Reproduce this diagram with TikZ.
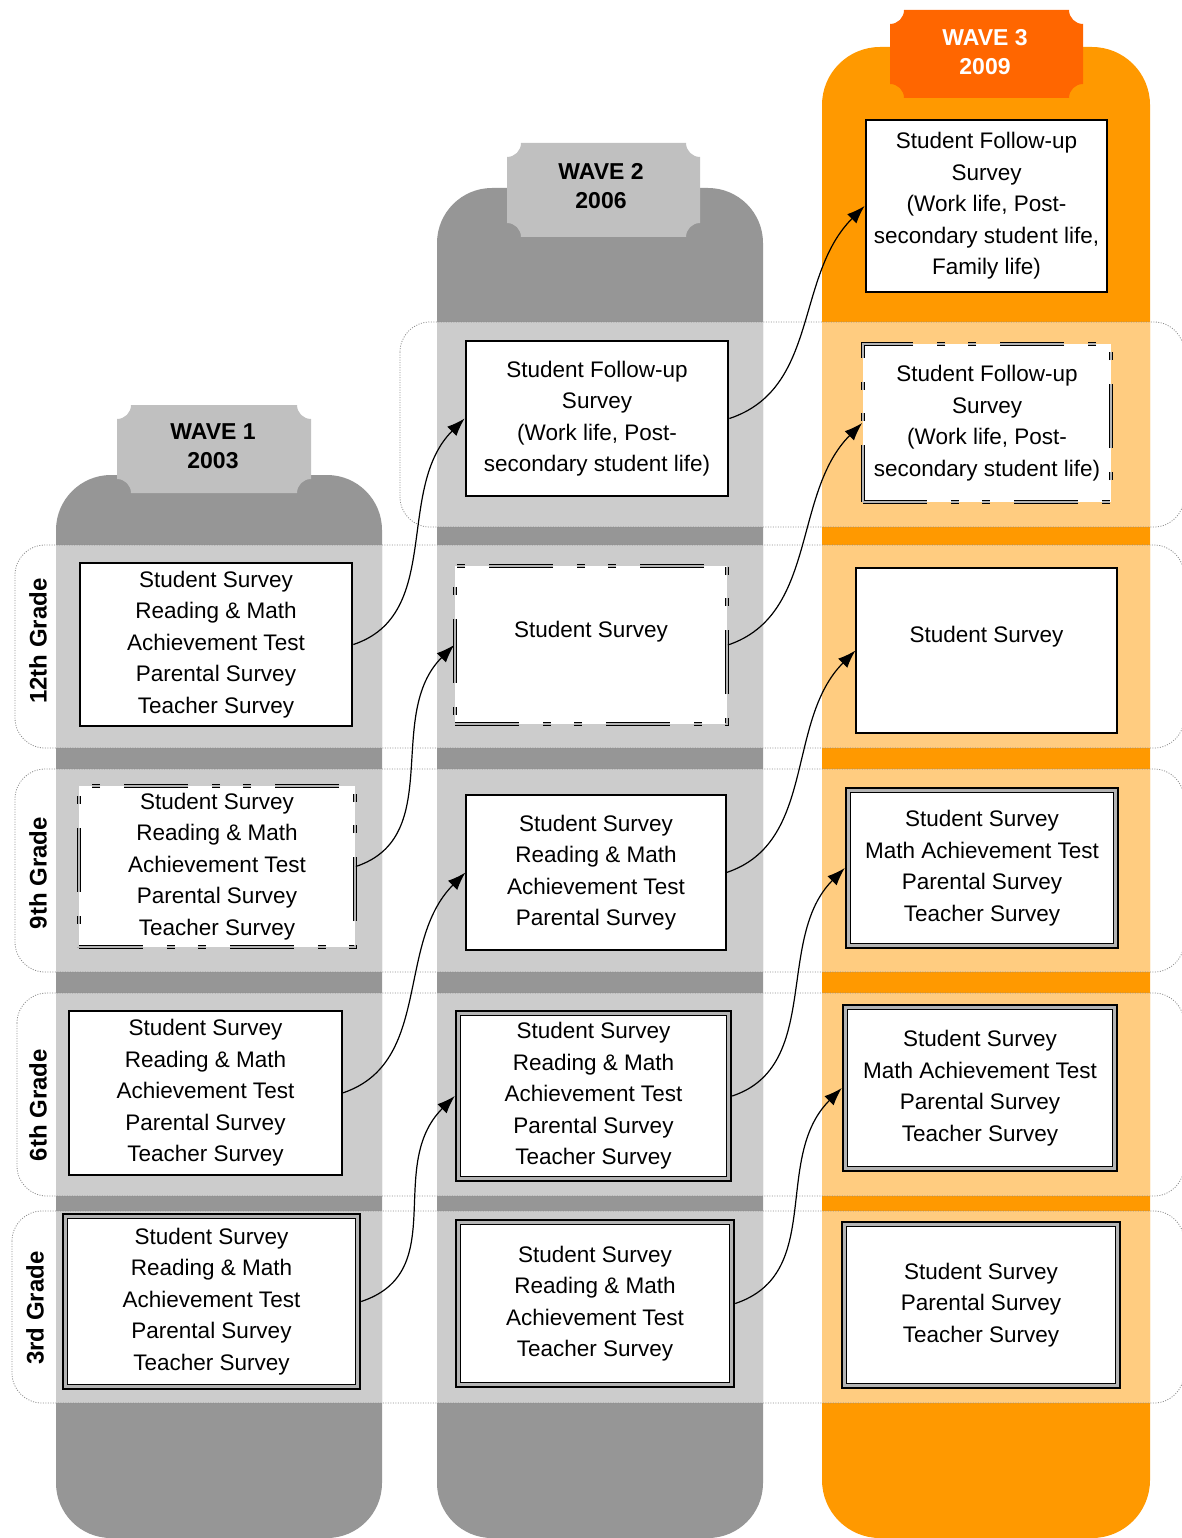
\documentclass[tikz,border=0pt]{standalone}
\usepackage{fontspec}
\setmainfont{Liberation Sans}
\usetikzlibrary{arrows.meta}
\definecolor{colDark}{HTML}{969696}
\definecolor{colLight}{HTML}{CCCCCC}
\definecolor{colHead}{HTML}{C0C0C0}
\definecolor{colOr}{HTML}{FF9900}
\definecolor{colOrL}{HTML}{FFCC80}
\definecolor{colOrH}{HTML}{FF6600}
\definecolor{colDot}{HTML}{8C8C8C}
\definecolor{colGap}{HTML}{B4B4B4}
\newcommand\wavetag[5]{%
  \fill[#5] (#1+14,#2) -- (#3-14,#2) arc[start angle=180, end angle=90, radius=14]
    -- (#3,#4-14) arc[start angle=270, end angle=180, radius=14]
    -- (#1+14,#4) arc[start angle=0, end angle=-90, radius=14]
    -- (#1,#2+14) arc[start angle=90, end angle=0, radius=14] -- cycle;}
\begin{document}
\begin{tikzpicture}[x=1pt,y=-1pt,
  txt/.style={font=\fontsize{22.5}{31.5}\selectfont, align=center, inner sep=0pt, text=black},
  plainbox/.style={txt, draw=black, fill=white, line width=1.1pt},
  thickbox/.style={txt, draw=black, fill=white, line width=2.8pt},
  dashbox/.style={txt, draw=black, fill=white, line width=1.7pt, double=colGap, double distance=1.1pt,
    dash pattern=on 64pt off 24pt on 8pt off 23pt on 8pt off 24pt},
  dblbox/.style={txt, draw=black, line width=2.4pt, fill=colGap,
    path picture={
      \fill[white] ([xshift=4.5pt,yshift=-4.5pt]path picture bounding box.north west)
        rectangle ([xshift=-4.5pt,yshift=4.5pt]path picture bounding box.south east);
      \draw[black, line width=1.2pt] ([xshift=4.5pt,yshift=-4.5pt]path picture bounding box.north west)
        rectangle ([xshift=-4.5pt,yshift=4.5pt]path picture bounding box.south east);}},
  rowline/.style={draw=colDot, line width=0.8pt, dash pattern=on 1pt off 1.5pt, rounded corners=30pt},
  conn/.style={line width=1.2pt, -{Latex[length=18pt,width=13pt]}},
  grade/.style={font=\bfseries\fontsize{24}{24}\selectfont, rotate=90, inner sep=0pt},
  wave/.style={font=\bfseries\fontsize{23}{29}\selectfont, align=center, inner sep=0pt}
]
\useasboundingbox (0,0) rectangle (1182,1538);
\fill[white] (0,0) rectangle (1182,1538);

% columns
\fill[colDark, rounded corners=55pt] (56,475) rectangle (382,1538);
\fill[colDark, rounded corners=55pt] (437,188) rectangle (763,1538);
\fill[colOr, rounded corners=58pt] (822,47) rectangle (1150,1538);

% light row bands
\foreach \ya/\yb in {545/748, 769/972, 993/1196, 1211/1403}{
  \fill[colLight] (56,\ya) rectangle (382,\yb);
  \fill[colLight] (437,\ya) rectangle (763,\yb);
  \fill[colOrL] (822,\ya) rectangle (1150,\yb);
}
\fill[colLight] (437,322) rectangle (763,527);
\fill[colOrL] (822,322) rectangle (1150,527);

% wave headers
\wavetag{117}{405}{311}{493}{colHead}
\wavetag{507}{143}{700}{237}{colHead}
\wavetag{890}{10}{1083}{98}{colOrH}
\node[wave, text=black] (w1) at (213,446) {WAVE 1\\2003};
\node[wave, text=black] (w2) at (601,186) {WAVE 2\\2006};
\node[wave, text=white] (w3) at (985,52) {WAVE 3\\2009};

% row outlines
\draw[rowline] (400,322) rectangle (1184,527);
\draw[rowline] (15,545) rectangle (1184,748);
\draw[rowline] (15,769) rectangle (1184,972);
\draw[rowline] (17,993) rectangle (1184,1196);
\draw[rowline] (12,1211) rectangle (1184,1403);

% grade labels
\node[grade] (g12) at (38,641) {12th Grade};
\node[grade] (g9) at (38,873) {9th Grade};
\node[grade] (g6) at (38,1105) {6th Grade};
\node[grade] (g3) at (35,1308) {3rd Grade};

% wave 1 boxes
\node[thickbox, minimum width=272pt, minimum height=163pt] (a12) at (216,644.5)
  {Student Survey\\Reading \& Math\\Achievement Test\\Parental Survey\\Teacher Survey};
\node[dashbox, minimum width=276pt, minimum height=161pt] (a9) at (217,866.5)
  {Student Survey\\Reading \& Math\\Achievement Test\\Parental Survey\\Teacher Survey};
\node[plainbox, minimum width=273pt, minimum height=164pt] (a6) at (205.5,1093)
  {Student Survey\\Reading \& Math\\Achievement Test\\Parental Survey\\Teacher Survey};
\node[dblbox, minimum width=297pt, minimum height=175pt] (a3) at (211.5,1301.5)
  {Student Survey\\Reading \& Math\\Achievement Test\\Parental Survey\\Teacher Survey};

% wave 2 boxes
\node[thickbox, minimum width=262pt, minimum height=155pt] (bF) at (597,418.5)
  {Student Follow-up\\Survey\\(Work life, Post-\\secondary student life)};
\node[dashbox, minimum width=272pt, minimum height=158pt] (b12) at (591,645)
  {Student Survey\\\mbox{}};
\node[plainbox, minimum width=260pt, minimum height=155pt] (b9) at (596,872.5)
  {Student Survey\\Reading \& Math\\Achievement Test\\Parental Survey};
\node[dblbox, minimum width=275pt, minimum height=170pt] (b6) at (593.5,1096)
  {Student Survey\\Reading \& Math\\Achievement Test\\Parental Survey\\Teacher Survey};
\node[dblbox, minimum width=278pt, minimum height=167pt] (b3) at (595,1303.5)
  {Student Survey\\Reading \& Math\\Achievement Test\\Teacher Survey};

% wave 3 boxes
\node[thickbox, minimum width=241pt, minimum height=172pt] (cT) at (986.5,206)
  {Student Follow-up\\Survey\\(Work life, Post-\\secondary student life,\\Family life)};
\node[dashbox, minimum width=248pt, minimum height=158pt] (cF) at (987,423)
  {Student Follow-up\\Survey\\(Work life, Post-\\secondary student life)};
\node[plainbox, minimum width=261pt, minimum height=165pt] (c12) at (986.5,650.5)
  {Student Survey\\\mbox{}};
\node[dblbox, minimum width=272pt, minimum height=160pt] (c9) at (982,868)
  {Student Survey\\Math Achievement Test\\Parental Survey\\Teacher Survey};
\node[dblbox, minimum width=274pt, minimum height=166pt] (c6) at (980,1088)
  {Student Survey\\Math Achievement Test\\Parental Survey\\Teacher Survey};
\node[dblbox, minimum width=278pt, minimum height=166pt] (c3) at (981,1305)
  {Student Survey\\Parental Survey\\Teacher Survey};

% connectors
\draw[conn] (a12.east) .. controls +(90,-30) and +(-70,70) .. (bF.west);
\draw[conn] (a9.east) .. controls +(90,-30) and +(-70,70) .. (b12.west);
\draw[conn] (a6.east) .. controls +(90,-30) and +(-70,70) .. (b9.west);
\draw[conn] (a3.east) .. controls +(90,-30) and +(-70,70) .. (b6.west);
\draw[conn] (bF.east) .. controls +(90,-30) and +(-70,70) .. (cT.west);
\draw[conn] (b12.east) .. controls +(90,-30) and +(-70,70) .. (cF.west);
\draw[conn] (b9.east) .. controls +(90,-30) and +(-70,70) .. (c12.west);
\draw[conn] (b6.east) .. controls +(90,-30) and +(-70,70) .. (c9.west);
\draw[conn] (b3.east) .. controls +(90,-30) and +(-70,70) .. (c6.west);
\end{tikzpicture}
\end{document}
